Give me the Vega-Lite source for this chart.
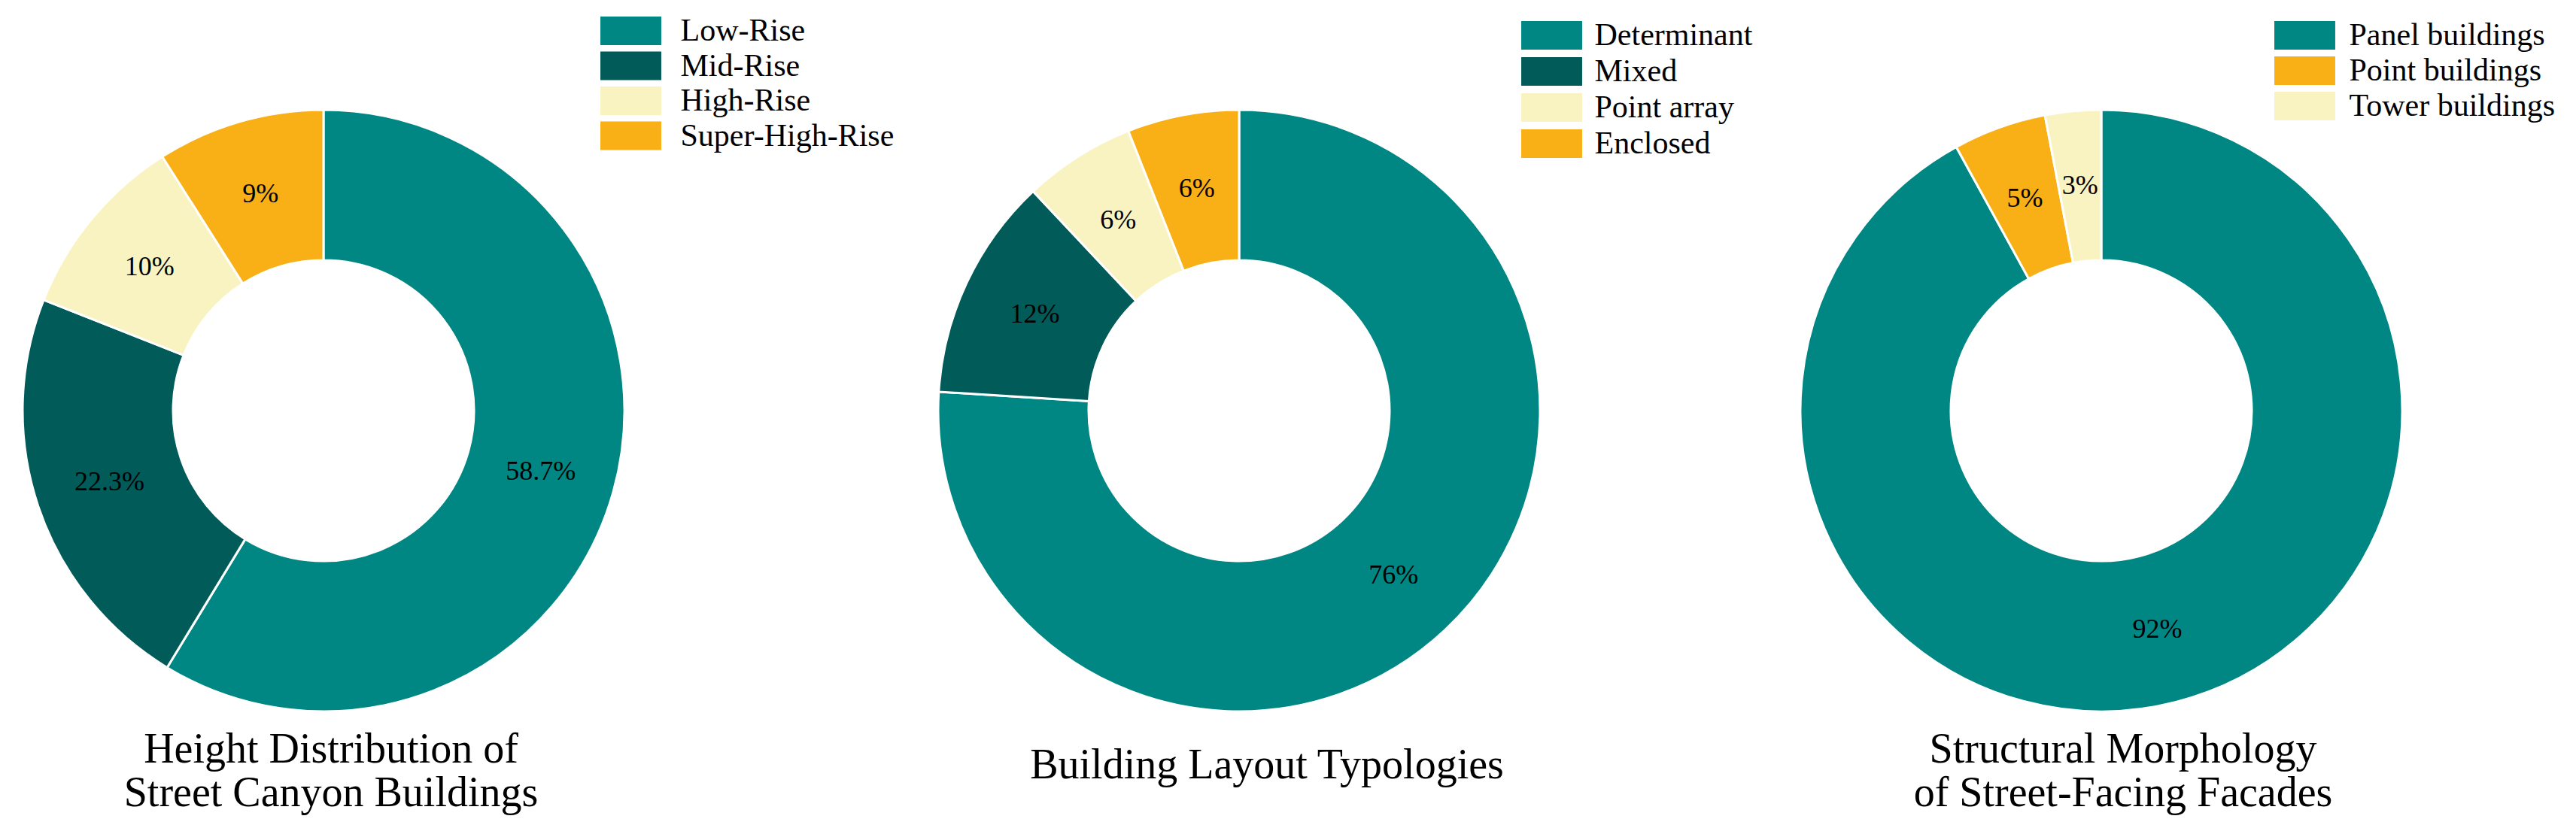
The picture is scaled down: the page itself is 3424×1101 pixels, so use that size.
{
  "$schema": "https://vega.github.io/schema/vega-lite/v6.json",
  "background": "white",
  "padding": 0,
  "spacing": 0,
  "bounds": "flush",
  "resolve": {"scale": {"color": "independent", "theta": "independent"}, "legend": {"color": "independent"}},
  "config": {
    "view": {"stroke": null},
    "title": {"font": "Liberation Serif", "fontSize": 56, "fontWeight": "normal", "color": "black", "lineHeight": 58, "orient": "bottom", "anchor": "middle", "frame": "group"}
  },
  "hconcat": [
    {
      "width": 860,
      "height": 1092,
      "title": {"text": ["Height Distribution of", "Street Canyon Buildings"], "offset": -122, "dx": 10},
      "data": {"values": [
        {"cat": "Low-Rise", "pct": 58.7, "label": "58.7%", "idx": 1},
        {"cat": "Mid-Rise", "pct": 22.3, "label": "22.3%", "idx": 2},
        {"cat": "High-Rise", "pct": 10, "label": "10%", "idx": 3},
        {"cat": "Super-High-Rise", "pct": 9, "label": "9%", "idx": 4}
      ]},
      "encoding": {
        "theta": {"field": "pct", "type": "quantitative", "stack": true},
        "order": {"field": "idx", "type": "quantitative"},
        "color": {
          "field": "cat", "type": "nominal",
          "scale": {"domain": ["Low-Rise", "Mid-Rise", "High-Rise", "Super-High-Rise"], "range": ["#008784", "#005b59", "#f8f3c1", "#f8b016"]},
          "legend": {"title": null, "orient": "none", "legendX": 796, "legendY": 20, "symbolType": "M-2.13,-1H2.13V1H-2.13Z", "symbolSize": 1444, "symbolStrokeWidth": 0, "symbolOffset": 21.5, "labelOffset": 45, "labelFont": "Liberation Serif", "labelFontSize": 42, "labelColor": "black", "rowPadding": 4.5, "padding": 0, "labelLimit": 600}
        }
      },
      "layer": [
        {"mark": {"type": "arc", "outerRadius": 400, "innerRadius": 200, "stroke": "white", "strokeWidth": 3}},
        {"mark": {"type": "text", "radius": 300, "font": "Liberation Serif", "fontSize": 36}, "encoding": {"text": {"field": "label"}, "color": {"value": "black"}}}
      ]
    },
    {
      "width": 1574,
      "height": 1092,
      "title": {"text": "Building Layout Typologies", "offset": -101, "dx": 37},
      "data": {"values": [
        {"cat": "Determinant", "pct": 76, "label": "76%", "idx": 1},
        {"cat": "Mixed", "pct": 12, "label": "12%", "idx": 2},
        {"cat": "Point array", "pct": 6, "label": "6%", "idx": 3},
        {"cat": "Enclosed", "pct": 6, "label": "6%", "idx": 4}
      ]},
      "encoding": {
        "theta": {"field": "pct", "type": "quantitative", "stack": true},
        "order": {"field": "idx", "type": "quantitative"},
        "color": {
          "field": "cat", "type": "nominal",
          "scale": {"domain": ["Determinant", "Mixed", "Point array", "Enclosed"], "range": ["#008784", "#005b59", "#f8f3c1", "#f8b016"]},
          "legend": {"title": null, "orient": "none", "legendX": 1160, "legendY": 26, "symbolType": "M-2.13,-1H2.13V1H-2.13Z", "symbolSize": 1444, "symbolStrokeWidth": 0, "symbolOffset": 21.5, "labelOffset": 36, "labelFont": "Liberation Serif", "labelFontSize": 42, "labelColor": "black", "rowPadding": 6, "padding": 0, "labelLimit": 600}
        }
      },
      "layer": [
        {"mark": {"type": "arc", "outerRadius": 400, "innerRadius": 200, "stroke": "white", "strokeWidth": 3}},
        {"mark": {"type": "text", "radius": 300, "font": "Liberation Serif", "fontSize": 36}, "encoding": {"text": {"field": "label"}, "color": {"value": "black"}}}
      ]
    },
    {
      "width": 718,
      "height": 1092,
      "title": {"text": ["Structural Morphology", "of Street-Facing Facades"], "offset": -122, "dx": 29},
      "data": {"values": [
        {"cat": "Panel buildings", "pct": 92, "label": "92%", "idx": 1},
        {"cat": "Point buildings", "pct": 5, "label": "5%", "idx": 2},
        {"cat": "Tower buildings", "pct": 3, "label": "3%", "idx": 3}
      ]},
      "encoding": {
        "theta": {"field": "pct", "type": "quantitative", "stack": true},
        "order": {"field": "idx", "type": "quantitative"},
        "color": {
          "field": "cat", "type": "nominal",
          "scale": {"domain": ["Panel buildings", "Point buildings", "Tower buildings"], "range": ["#008784", "#f8b016", "#f8f3c1"]},
          "legend": {"title": null, "orient": "none", "legendX": 587, "legendY": 26, "symbolType": "M-2.13,-1H2.13V1H-2.13Z", "symbolSize": 1444, "symbolStrokeWidth": 0, "symbolOffset": 21.5, "labelOffset": 38, "labelFont": "Liberation Serif", "labelFontSize": 42, "labelColor": "black", "rowPadding": 5, "padding": 0, "labelLimit": 600}
        }
      },
      "layer": [
        {"mark": {"type": "arc", "outerRadius": 400, "innerRadius": 200, "stroke": "white", "strokeWidth": 3}},
        {"mark": {"type": "text", "radius": 300, "font": "Liberation Serif", "fontSize": 36}, "encoding": {"text": {"field": "label"}, "color": {"value": "black"}}}
      ]
    }
  ]
}
